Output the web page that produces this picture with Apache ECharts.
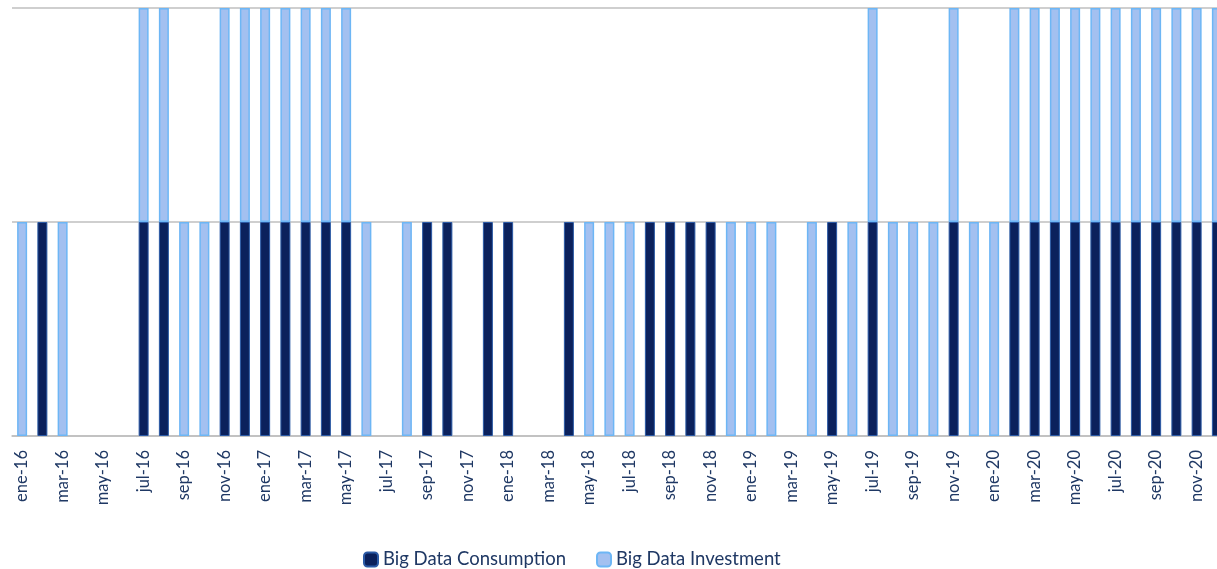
<!DOCTYPE html>
<html>
<head>
<meta charset="utf-8">
<script src="https://cdn.jsdelivr.net/npm/echarts@6/dist/echarts.min.js"></script>
<style>
  html, body { margin: 0; padding: 0; background: #fff; overflow: hidden; }
  /* wider than the window so the last month gets cut off at the edge */
  #chart-container { width: 1240px; height: 569px; }
</style>
</head>
<body>
<div id="chart-container"></div>
<script>
// month labels, ene-16 .. dic-20
const monthNames = ["ene", "feb", "mar", "abr", "may", "jun", "jul", "ago", "sep", "oct", "nov", "dic"];
const years = ["16", "17", "18", "19", "20"];
const months = [];
years.forEach(function (y) {
  monthNames.forEach(function (m) {
    months.push(m + "-" + y);
  });
});

// 1 = signal present that month, 0 = none
const consumption = [
  0, 1, 0, 0, 0, 0, 1, 1, 0, 0, 1, 1,
  1, 1, 1, 1, 1, 0, 0, 0, 1, 1, 0, 1,
  1, 0, 0, 1, 0, 0, 0, 1, 1, 1, 1, 0,
  0, 0, 0, 0, 1, 0, 1, 0, 0, 0, 1, 0,
  0, 1, 1, 1, 1, 1, 1, 1, 1, 1, 1, 1
];
const investment = [
  1, 0, 1, 0, 0, 0, 1, 1, 1, 1, 1, 1,
  1, 1, 1, 1, 1, 1, 0, 1, 0, 0, 0, 0,
  0, 0, 0, 0, 1, 1, 1, 0, 0, 0, 0, 1,
  1, 1, 0, 1, 0, 1, 1, 1, 1, 1, 1, 1,
  1, 1, 1, 1, 1, 1, 1, 1, 1, 1, 1, 1
];

var dom = document.getElementById("chart-container");
var myChart = echarts.init(dom, null, { renderer: "canvas" });

const textColor = "#1f3864";
const font = "Lato, 'Open Sans', sans-serif";

var option = {
  animation: false,
  backgroundColor: "#ffffff",
  legend: {
    left: 358,
    top: 545,
    itemWidth: 14,
    itemHeight: 14,
    itemGap: 30,
    textStyle: { color: textColor, fontSize: 18.5, fontFamily: font },
    data: ["Big Data Consumption", "Big Data Investment"]
  },
  grid: {
    left: 12,
    top: 8,
    width: 1215,
    height: 428,
    containLabel: false
  },
  xAxis: {
    type: "category",
    data: months,
    axisLine: { lineStyle: { color: "#bfbfbf", width: 1.5 } },
    axisTick: { interval: 1, length: 6, lineStyle: { color: "#bfbfbf", width: 1.5 } },
    axisLabel: {
      interval: 1,
      rotate: 90,
      margin: 14,
      color: textColor,
      fontSize: 16.5,
      fontFamily: font
    }
  },
  yAxis: {
    type: "value",
    min: 0,
    max: 2,
    interval: 1,
    axisLabel: { show: false },
    axisLine: { show: false },
    axisTick: { show: false },
    splitLine: { lineStyle: { color: "#bfbfbf", width: 1.5 } }
  },
  series: [
    {
      name: "Big Data Consumption",
      type: "bar",
      stack: "total",
      barWidth: 10,
      itemStyle: { color: "#0b215c", borderColor: "#2b5aa6", borderWidth: 1 },
      data: consumption.map(function (v) { return v || null; })
    },
    {
      name: "Big Data Investment",
      type: "bar",
      stack: "total",
      barWidth: 10,
      itemStyle: { color: "#a3c0f0", borderColor: "#6db6f5", borderWidth: 1.5 },
      data: investment.map(function (v) { return v || null; })
    }
  ]
};

myChart.setOption(option);
window.addEventListener("resize", myChart.resize);
</script>
</body>
</html>
